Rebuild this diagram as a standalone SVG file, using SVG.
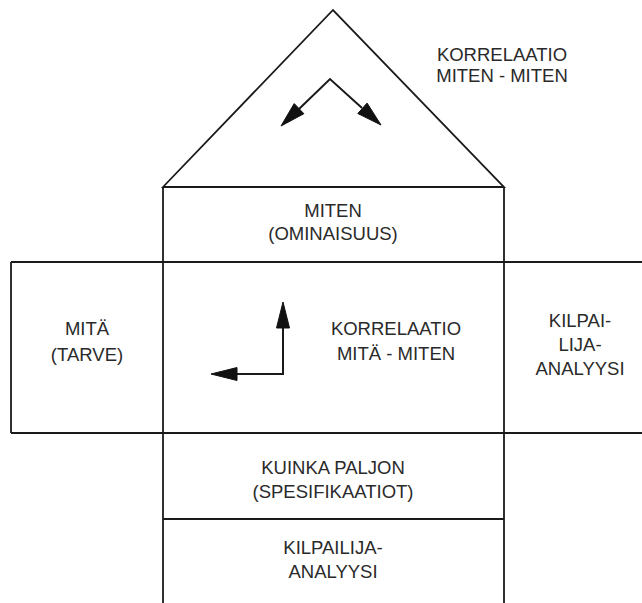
<svg xmlns="http://www.w3.org/2000/svg" width="642" height="603" viewBox="0 0 642 603">
  <style>
    .ln { fill: none; stroke: #1a1a1a; stroke-width: 1.8; }
    .ar { fill: none; stroke: #1a1a1a; stroke-width: 2; }
    .hd { fill: #111; stroke: #111; stroke-width: 1; stroke-linejoin: miter; }
    text { font-family: "Liberation Sans", Arial, sans-serif; font-size: 18.5px; fill: #2a2a2a; text-anchor: middle; }
  </style>

  <!-- house frame -->
  <g id="frame">
    <path class="ln" d="M163,187 L333,10 L504,187 Z"/>
    <line class="ln" x1="163" y1="187" x2="163" y2="603"/>
    <line class="ln" x1="504" y1="187" x2="504" y2="603"/>
    <line class="ln" x1="11" y1="262" x2="642" y2="262"/>
    <line class="ln" x1="11" y1="433" x2="642" y2="433"/>
    <line class="ln" x1="11" y1="262" x2="11" y2="433"/>
    <line class="ln" x1="163" y1="519" x2="504" y2="519"/>
  </g>

  <!-- correlation arrows -->
  <g id="connectors">
    <polyline class="ar" points="299,109 330,79 362,108"/>
    <polygon class="hd" points="281,126 303.9,113.7 294.2,103.6"/>
    <polygon class="hd" points="381,125 357.8,113.5 367.1,103.1"/>
    <polyline class="ar" points="283,327 283,374 236,374"/>
    <polygon class="hd" points="283,302 276.5,328 289.5,328"/>
    <polygon class="hd" points="211,374 237,367.5 237,380.5"/>
  </g>

  <g id="roof-label">
    <text x="502" y="61">KORRELAATIO</text>
    <text x="502" y="82">MITEN - MITEN</text>
  </g>
  <g id="miten">
    <text x="333" y="217">MITEN</text>
    <text x="333" y="240">(OMINAISUUS)</text>
  </g>
  <g id="mita">
    <text x="87" y="335">MITÄ</text>
    <text x="87" y="361">(TARVE)</text>
  </g>
  <g id="korrelaatio">
    <text x="396" y="335">KORRELAATIO</text>
    <text x="396" y="360">MITÄ - MITEN</text>
  </g>
  <g id="kilpailija-right">
    <text x="580" y="327">KILPAI-</text>
    <text x="580" y="351">LIJA-</text>
    <text x="580" y="375">ANALYYSI</text>
  </g>
  <g id="kuinka-paljon">
    <text x="333" y="474">KUINKA PALJON</text>
    <text x="333" y="498">(SPESIFIKAATIOT)</text>
  </g>
  <g id="kilpailija-bottom">
    <text x="333" y="554">KILPAILIJA-</text>
    <text x="333" y="578">ANALYYSI</text>
  </g>
</svg>
